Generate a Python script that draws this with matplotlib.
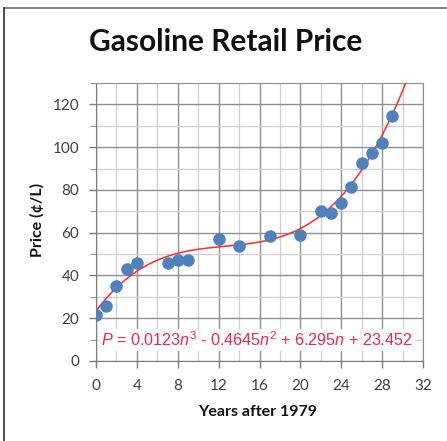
import numpy as np
import matplotlib
matplotlib.use("Agg")
import matplotlib.pyplot as plt
from matplotlib.lines import Line2D

# years after 1979 and retail price (cents per litre)
years = [0, 1, 2, 3, 4, 7, 8, 9, 12, 14, 17, 20, 22, 23, 24, 25, 26, 27, 28, 29]
price = [21.4, 25.9, 35.3, 42.8, 45.6, 45.6, 47.3, 47.3, 56.9, 53.8,
         58.4, 58.9, 70.2, 69.4, 73.7, 81.3, 92.5, 97.4, 101.8, 114.6]

# cubic fit coefficients shown on the chart
coef = [0.0123, -0.4645, 6.295, 23.452]

title = "Gasoline Retail Price"
xlabel = "Years after 1979"
ylabel = "Price (¢/L)"

plt.rcParams["mathtext.fontset"] = "custom"
plt.rcParams["mathtext.it"] = "Liberation Sans:italic"
plt.rcParams["mathtext.rm"] = "Liberation Sans"

fig = plt.figure(figsize=(4.47, 4.41), dpi=100)
ax = fig.add_axes([96 / 447, 80 / 441, 327 / 447, 278 / 441])

ax.set_xlim(0, 32)
ax.set_ylim(0, 130)
ax.set_xticks(np.arange(0, 33, 4))
ax.set_xticks(np.arange(0, 33, 2), minor=True)
ax.set_yticks(np.arange(0, 121, 20))
ax.set_yticks(np.arange(0, 131, 10), minor=True)

ax.grid(which="major", color="#8f8f8f", lw=1.0)
ax.grid(which="minor", color="#cfcfcf", lw=0.9)
ax.set_axisbelow(True)
for s in ax.spines.values():
    s.set_color("#8f8f8f")
ax.spines["left"].set_color("#7a7a7a")
ax.spines["bottom"].set_color("#7a7a7a")

ax.tick_params(axis="both", which="major", direction="out", length=5, width=1,
               color="#7a7a7a", labelsize=11, labelcolor="#404040")
ax.tick_params(axis="y", which="major", pad=7)
ax.tick_params(axis="x", which="major", pad=8)
ax.tick_params(axis="x", which="minor", length=0)
ax.tick_params(axis="y", which="minor", length=4, color="#7a7a7a")
for lab in ax.get_xticklabels() + ax.get_yticklabels():
    lab.set_family("Lato")

# trend line
n = np.linspace(0, 31, 400)
ax.plot(n, np.polyval(coef, n), color="#ff2a2a", lw=1.1, zorder=3)

ax.plot(years, price, "o", color="#4f81bd", ms=8, mec="#4f81bd", zorder=4)

eq = (r"$\mathit{P}$ = 0.0123$\mathit{n}^{3}$ - 0.4645$\mathit{n}^{2}$"
      r" + 6.295$\mathit{n}$ + 23.452")
ax.text(0.5, 9.8, eq, color="#f0284a", fontsize=11.6, family="Liberation Sans",
        va="center", ha="left", zorder=5,
        bbox=dict(facecolor="white", edgecolor="none", pad=1.5))

fig.text(226 / 447, 1 - 42 / 441, title, fontsize=21.5, fontweight="bold",
         family="Lato", ha="center", va="center", color="#111111")
fig.text(258 / 447, 1 - 412 / 441, xlabel, fontsize=11.5, fontweight="bold",
         family="Lato", ha="center", va="center", color="#111111")
fig.text(37 / 447, 1 - 220 / 441, ylabel, fontsize=11.5, fontweight="bold",
         family="Lato", ha="center", va="center", rotation=90, color="#111111")

# outer frame (top and left edges only are visible)
fig.add_artist(Line2D([4 / 447, 1], [1 - 8 / 441, 1 - 8 / 441],
                      transform=fig.transFigure, color="#707070", lw=1.2))
fig.add_artist(Line2D([4 / 447, 4 / 447], [0, 1 - 8 / 441],
                      transform=fig.transFigure, color="#303030", lw=1.2))

fig.savefig("out.png", dpi=100)
